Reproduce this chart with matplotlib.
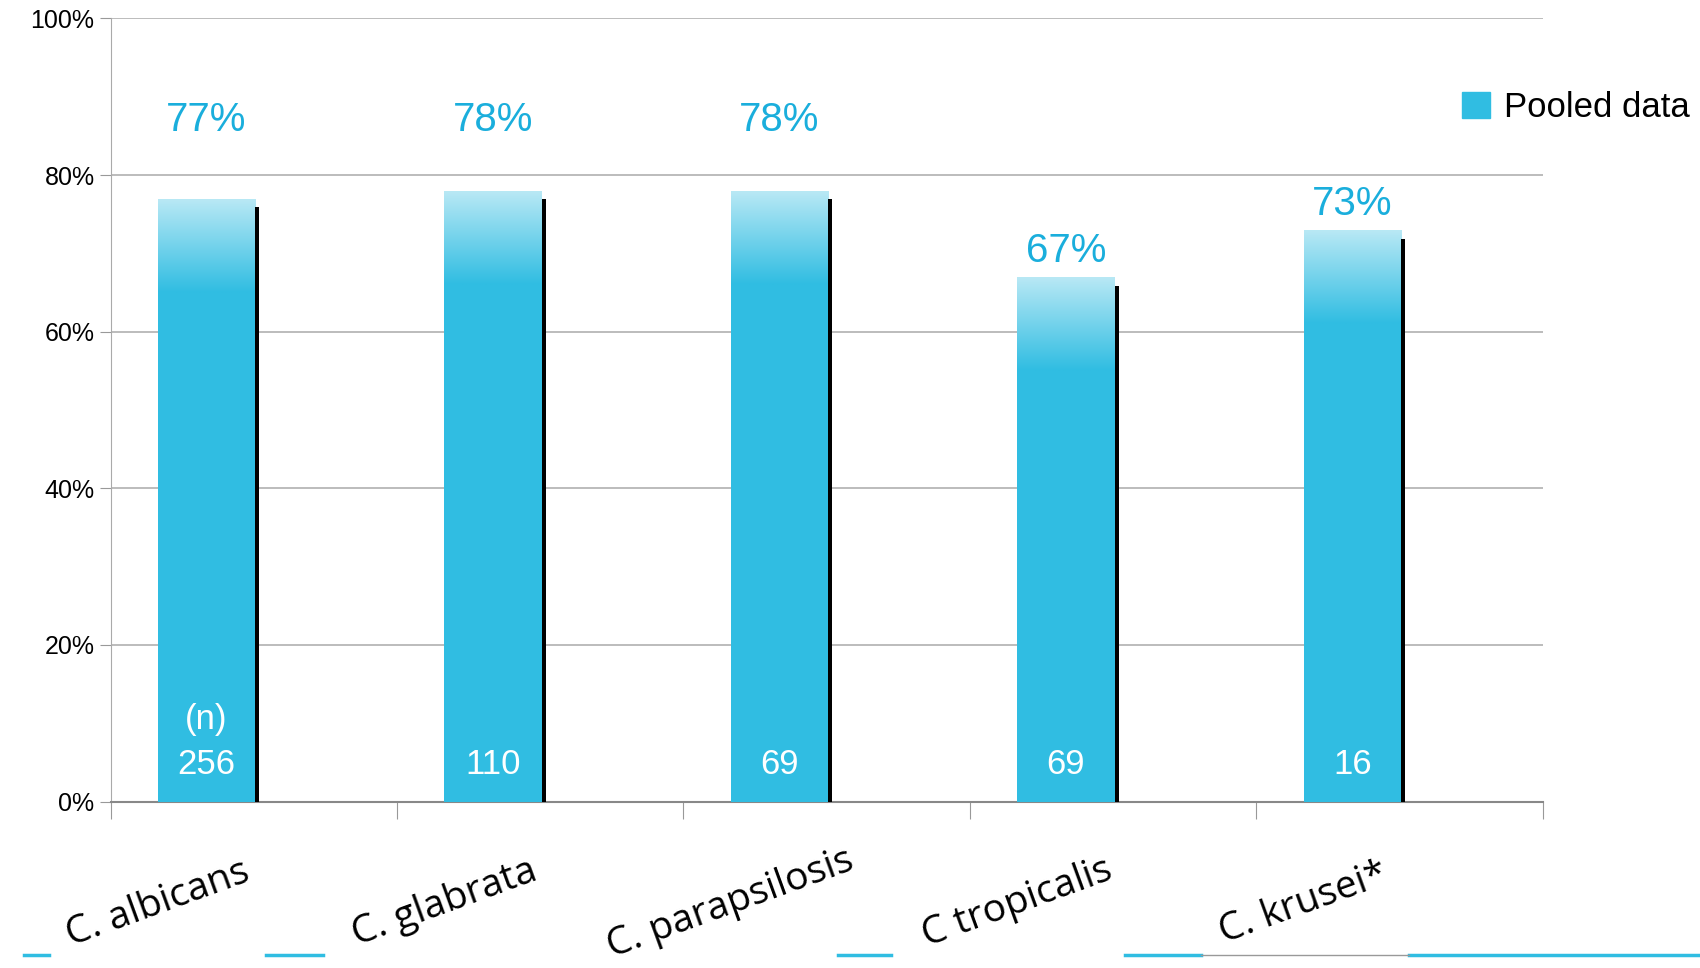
import matplotlib
matplotlib.use("Agg")
import matplotlib.pyplot as plt
import numpy as np
from matplotlib.lines import Line2D
from matplotlib.patches import Patch

categories = ["C. albicans", "C. glabrata", "C. parapsilosis", "C tropicalis", "C. krusei*"]
values = [77, 78, 78, 67, 73]
counts = ["256", "110", "69", "69", "16"]
pct_labels = ["77%", "78%", "78%", "67%", "73%"]

plt.rcParams["font.family"] = ["Liberation Sans", "DejaVu Sans"]
W, H = 1568, 890
fig = plt.figure(figsize=(17, 9.68), dpi=100)
ax = fig.add_axes([102/W, 1-737/H, (1423-102)/W, (737-17)/H])
blue = "#30BDE2"
light = np.array([0.72, 0.91, 0.96])
dark = np.array(matplotlib.colors.to_rgb(blue))
x = np.arange(len(categories)) - 0.165
bw = 0.34
ax.set_xlim(-0.5, 4.5)
ax.set_ylim(0, 100)
for i, v in enumerate(values):
    ax.bar(x[i], v, bw, color=blue, zorder=3)
    g = np.linspace(0, 1, 50)[:, None]
    cols = (light[None, None, :] * (1 - g[..., None]) + dark[None, None, :] * g[..., None])
    ax.imshow(cols, extent=(x[i]-bw/2, x[i]+bw/2, v-12, v), aspect="auto", zorder=4)
    ax.bar(x[i] + bw/2 + 0.007, v - 0.7, 0.014, bottom=-0.4, color="black", zorder=5)
    ax.bar(x[i] + 0.02, 0.4, bw, bottom=-0.4, color="black", zorder=5)
    ly = 87 if v >= 77 else v + 3.3
    ax.text(x[i], ly, pct_labels[i], ha="center", va="center", color="#1AAEDC", fontsize=29)
    ax.text(x[i], 4.7, counts[i], ha="center", va="center", color="white", fontsize=25)
ax.text(x[0], 10.5, "(n)", ha="center", va="center", color="white", fontsize=25)
ax.set_yticks(range(0, 101, 20))
ax.set_yticklabels([f"{t}%" for t in range(0, 101, 20)], fontsize=18)
ax.yaxis.grid(True, color="#B0B0B0", lw=1.2, zorder=0)
ax.set_axisbelow(True)
ax.set_xticks(np.arange(-0.5, 5, 1))
ax.set_xticklabels([])
ax.tick_params(axis="x", length=12, color="#999999")
ax.tick_params(axis="y", length=8, color="#999999")
for s in ["top", "right"]:
    ax.spines[s].set_visible(False)
ax.spines["left"].set_color("#AAAAAA")
ax.spines["bottom"].set_color("#888888")
ax.spines["bottom"].set_linewidth(1.5)
for i, c in enumerate(categories):
    ax.text(x[i] - 0.17, -13, c, rotation=20, ha="center", va="center", fontsize=28,
            fontfamily="Open Sans", rotation_mode="anchor")
for x0, x1 in [(22, 45), (245, 298), (773, 822), (1038, 1108), (1300, 1568)]:
    fig.add_artist(Line2D([x0/W, x1/W], [1-878/H]*2, color=blue, lw=2.5))
fig.add_artist(Line2D([1108/W, 1300/W], [1-878/H]*2, color="#999999", lw=1))
fig.legend(handles=[Patch(color=blue)], labels=["Pooled data"], loc="center left",
           bbox_to_anchor=(1320/W, 1-99/H), frameon=False, fontsize=25,
           handlelength=0.8, handleheight=0.8, handletextpad=0.4)
fig.savefig("out.png")
